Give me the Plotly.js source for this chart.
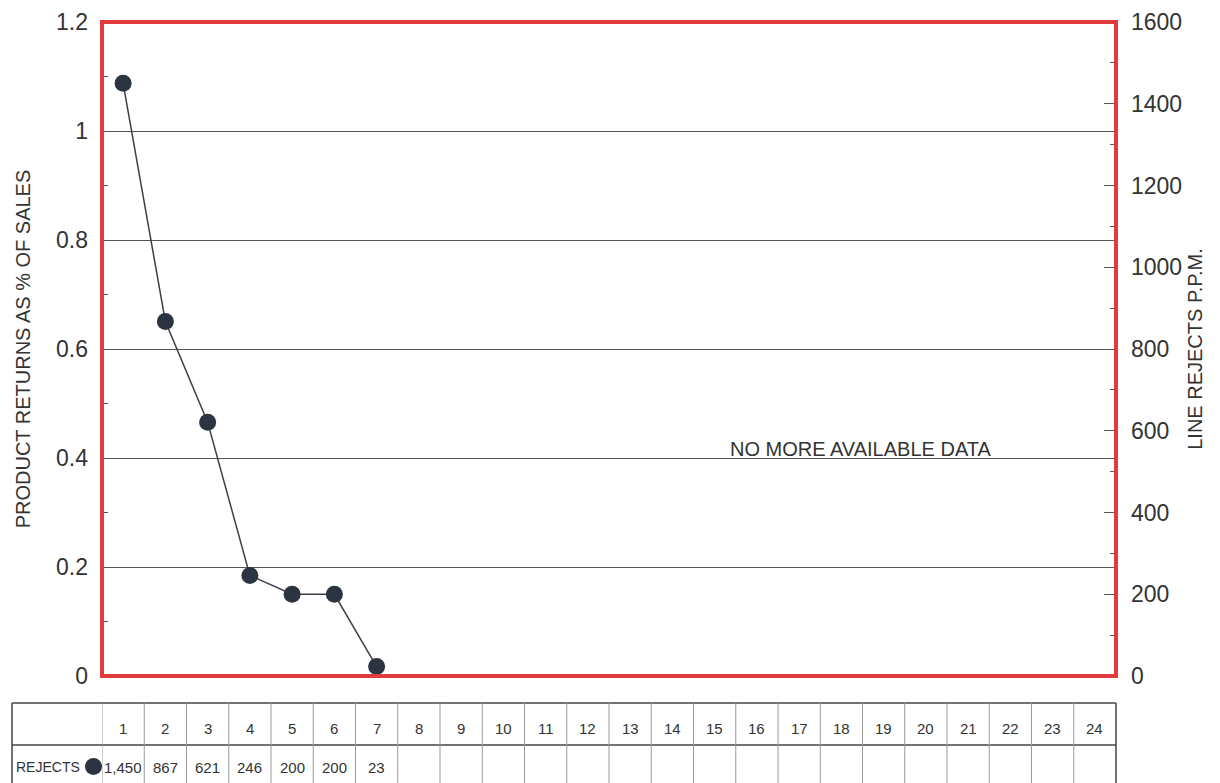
<!DOCTYPE html>
<html>
<head>
<meta charset="utf-8">
<script src="https://cdn.plot.ly/plotly-3.0.1.min.js"></script>
<style>html,body{margin:0;padding:0;background:#fff;}#chart{width:1220px;height:783px;}</style>
</head>
<body>
<div id="chart"></div>
<script>
// ---- data ----
const periods = [1,2,3,4,5,6,7,8,9,10,11,12,13,14,15,16,17,18,19,20,21,22,23,24];
const rejectPeriods = [1,2,3,4,5,6,7];
const rejectsPPM = [1450, 867, 621, 246, 200, 200, 23];
const seriesName = "REJECTS";
const leftTitle = "PRODUCT RETURNS AS % OF SALES";
const rightTitle = "LINE REJECTS P.P.M.";
const noteText = "NO MORE AVAILABLE DATA";

const FONT = "Liberation Sans, Arial, sans-serif";
const TXT = "#333";
const RED = "#e0393e";
const DOT = "#2c3441";

// table geometry (paper coordinates)
const plotTopPx = 22, plotBotPx = 676, plotH = plotBotPx - plotTopPx;
const pyOf = px => (plotBotPx - px) / plotH;
const tTop = pyOf(703), tMid = pyOf(745), tBot = pyOf(790);
const tLeft = (12 - 102) / 1014;
const rowY1 = pyOf(728), rowY2 = pyOf(767);

const shapes = [];
const annotations = [];

// frame
shapes.push({type:'rect', xref:'paper', yref:'paper', x0:0, x1:1, y0:0, y1:1,
  line:{color:RED, width:4}, layer:'above'});

// table horizontal lines
[tTop, tMid].forEach(y => shapes.push({type:'line', xref:'paper', yref:'paper',
  x0:tLeft, x1:1, y0:y, y1:y, line:{color:'#444', width:1.5}}));
// table outer vertical lines
shapes.push({type:'line', xref:'paper', yref:'paper', x0:tLeft, x1:tLeft, y0:tTop, y1:tBot, line:{color:'#444', width:1.5}});
shapes.push({type:'line', xref:'paper', yref:'paper', x0:1, x1:1, y0:tTop, y1:tBot, line:{color:'#444', width:1.5}});
// column separators
periods.forEach(p => {
  shapes.push({type:'line', xref:'x', yref:'paper', x0:p-0.5, x1:p-0.5, y0:tTop, y1:tBot,
    line:{color:'#999', width:1}});
});

// header numbers
periods.forEach(p => annotations.push({xref:'x', yref:'paper', x:p, y:rowY1, yanchor:'middle',
  text:String(p), showarrow:false, font:{family:FONT, size:15, color:TXT}}));
// values
rejectPeriods.forEach((p,i) => annotations.push({xref:'x', yref:'paper', x:p, y:rowY2, yanchor:'middle',
  text:rejectsPPM[i].toLocaleString('en-US'), showarrow:false, font:{family:FONT, size:15, color:TXT}}));
// row label
annotations.push({xref:'paper', yref:'paper', x:(14-102)/1014, y:rowY2, xanchor:'left', yanchor:'middle',
  text:seriesName, showarrow:false, font:{family:FONT, size:14, color:TXT}});
// legend dot in table
shapes.push({type:'circle', xref:'paper', yref:'paper',
  x0:(85-102)/1014, x1:(102-102)/1014, y0:pyOf(775), y1:pyOf(758),
  fillcolor:DOT, line:{color:DOT, width:0}});

// note
annotations.push({xref:'x', yref:'y', x:18.46, y:0.4165, text:noteText, showarrow:false,
  yanchor:'middle', font:{family:FONT, size:20, color:TXT}});

const trace = {
  x: rejectPeriods, y: rejectsPPM, yaxis:'y2', type:'scatter', mode:'lines+markers',
  name: seriesName,
  line:{color:'#3a3f48', width:1.5},
  marker:{color:DOT, size:17}
};

const layout = {
  width:1220, height:783,
  margin:{l:102, r:104, t:22, b:107},
  paper_bgcolor:'#fff', plot_bgcolor:'#fff',
  showlegend:false,
  font:{family:FONT, color:TXT},
  xaxis:{range:[0.5, 24.5], showticklabels:false, showgrid:false, zeroline:false, ticks:'', fixedrange:true},
  yaxis:{range:[0,1.2], dtick:0.2, tick0:0, showgrid:true, gridcolor:'#555', gridwidth:1,
    zeroline:false, ticks:'inside', ticklen:0, tickcolor:'#555',
    minor:{dtick:0.1, ticks:'inside', ticklen:6, tickcolor:'#555', showgrid:false},
    tickfont:{family:FONT, size:23, color:TXT}, ticklabelstandoff:13,
    title:{text:leftTitle, font:{family:FONT, size:20, color:TXT}, standoff:20}},
  yaxis2:{range:[0,1600], dtick:200, overlaying:'y', side:'right', showgrid:false, zeroline:false,
    ticks:'inside', ticklen:12, tickcolor:'#555',
    minor:{dtick:100, ticks:'inside', ticklen:6, tickcolor:'#555', showgrid:false},
    tickfont:{family:FONT, size:23, color:TXT}, ticklabelstandoff:14,
    title:{text:rightTitle, font:{family:FONT, size:20, color:TXT}, standoff:6}},
  shapes: shapes,
  annotations: annotations
};

Plotly.newPlot('chart', [trace], layout, {displayModeBar:false, staticPlot:true});
</script>
</body>
</html>
